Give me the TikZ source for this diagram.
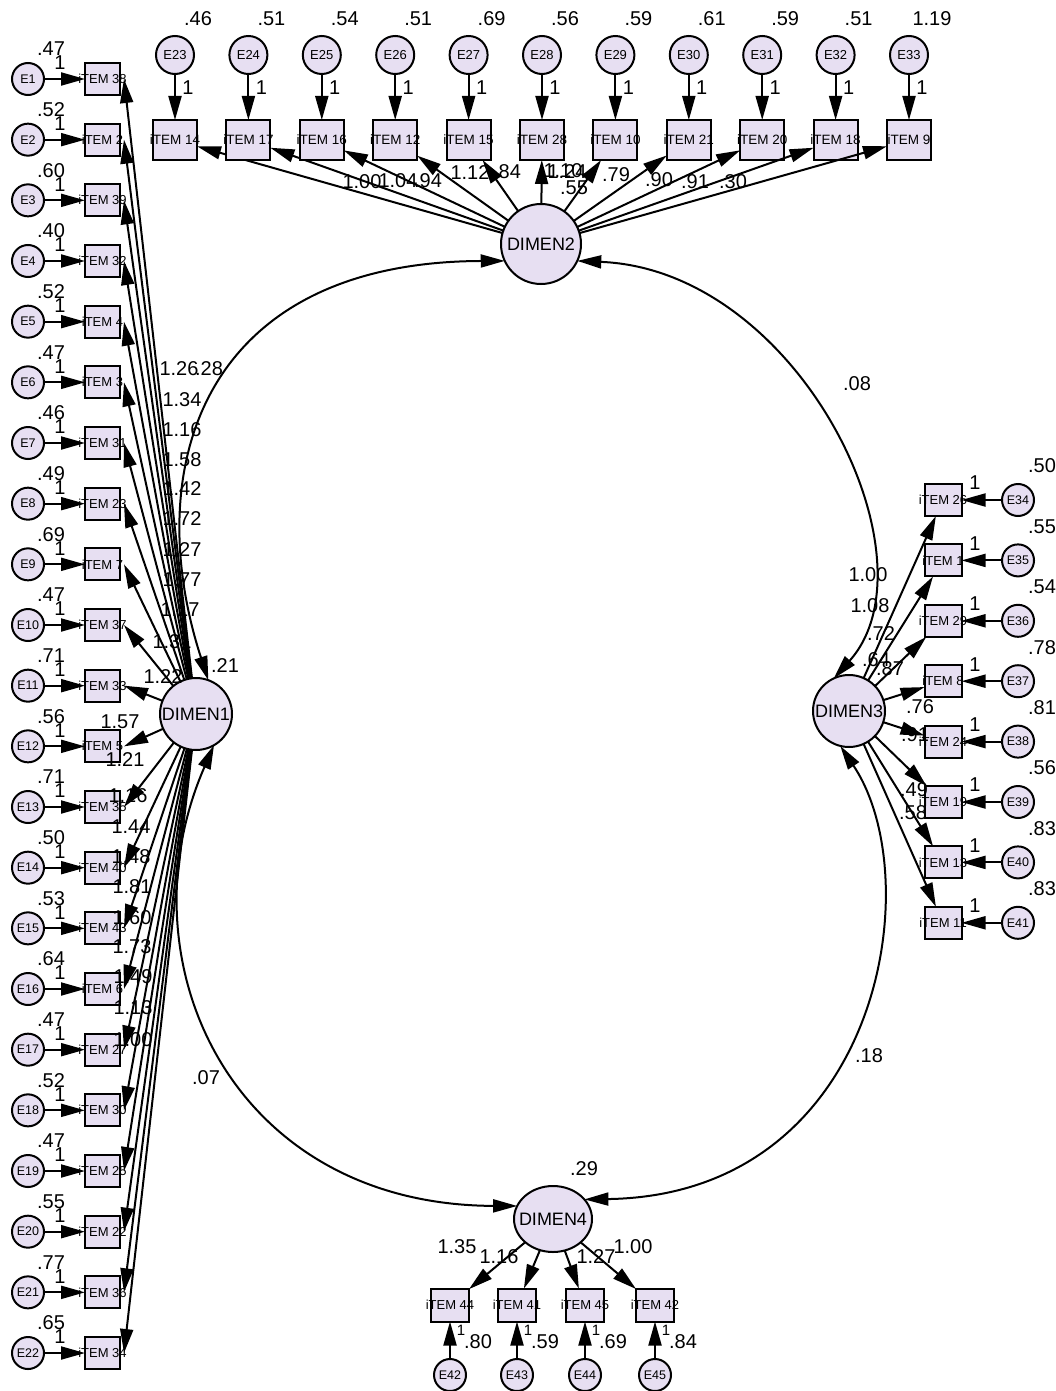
\documentclass[tikz,border=0pt]{standalone}
\usepackage{fontspec}
\setmainfont{Liberation Sans}
\usetikzlibrary{arrows.meta,calc,shapes.geometric}
\definecolor{nodefill}{RGB}{231,223,242}
\begin{document}
\begin{tikzpicture}[x=1pt,y=-1pt,
  every node/.style={inner sep=0pt, outer sep=0pt},
  lat/.style={circle, draw, line width=2pt, fill=nodefill, minimum size=72pt},
  latell/.style={ellipse, draw, line width=2pt, fill=nodefill, minimum width=78pt, minimum height=66pt},
  lattxt/.style={font=\fontsize{18}{18}\selectfont},
  err/.style={circle, draw, line width=2pt, fill=nodefill, minimum size=32pt, font=\fontsize{12.5}{12.5}\selectfont},
  errtop/.style={err, minimum size=38pt, font=\fontsize{13}{13}\selectfont},
  obs/.style={rectangle, draw, line width=2pt, fill=nodefill, minimum width=35pt, minimum height=32pt},
  obstop/.style={obs, minimum width=44pt, minimum height=40pt},
  obsright/.style={obs, minimum width=37pt},
  obsbot/.style={obs, minimum width=38pt, minimum height=33pt},
  itemtxt/.style={font=\fontsize{13}{13}\selectfont},
  itemtxttop/.style={font=\fontsize{13.5}{13.5}\selectfont},
  num/.style={font=\fontsize{20}{20}\selectfont},
  numsm/.style={font=\fontsize{15}{15}\selectfont},
  ld/.style={line width=2pt, -{Triangle[length=24pt,width=13pt]}},
  cov/.style={line width=2pt, {Triangle[length=24pt,width=13pt]}-{Triangle[length=24pt,width=13pt]}},
]
\useasboundingbox (0,0) rectangle (1056,1391);
\fill[white] (0,0) rectangle (1056,1391);

% ---------- latent variables ----------
\node[lat] (D1) at (196,714) {};
\node[lattxt] at (D1) {DIMEN1};
\node[lat, minimum size=80pt] (D2) at (541,244) {};
\node[lattxt] at (D2) {DIMEN2};
\node[lat] (D3) at (849,711) {};
\node[lattxt] at (D3) {DIMEN3};
\node[latell] (D4) at (553,1219) {};
\node[lattxt] at (D4) {DIMEN4};

% ---------- left column (DIMEN1) ----------
\foreach \i/\nm/\vr in {1/38/.47, 2/2/.52, 3/39/.60, 4/32/.40, 5/4/.52, 6/3/.47,
  7/31/.46, 8/23/.49, 9/7/.69, 10/37/.47, 11/33/.71, 12/5/.56, 13/35/.71,
  14/40/.50, 15/43/.53, 16/6/.64, 17/27/.47, 18/30/.52, 19/25/.47, 20/22/.55,
  21/36/.77, 22/34/.65}{
  \pgfmathsetmacro\yy{79+(\i-1)*60.667}
  \node[err] (E\i) at (28,\yy) {E\i};
  \node[obs] (L\i) at (102.5,\yy) {};
  \node[itemtxt] at (L\i) {iTEM \nm};
  \draw[ld] (E\i) -- (L\i);
  \draw[ld] (D1) -- ($(L\i.east)+(4,0)$);
  \node[num] at (51,\yy-30) {\vr};
  \node[num] at (60,\yy-16) {1};
}

% ---------- top row (DIMEN2) ----------
\foreach \j/\nm/\vr in {0/14/.46, 1/17/.51, 2/16/.54, 3/12/.51, 4/15/.69,
  5/28/.56, 6/10/.59, 7/21/.61, 8/20/.59, 9/18/.51, 10/9/1.19}{
  \pgfmathsetmacro\xx{175+\j*73.4}
  \pgfmathtruncatemacro\en{23+\j}
  \node[errtop] (E\en) at (\xx,55) {E\en};
  \node[obstop] (T\j) at (\xx,140) {};
  \node[itemtxttop] at (T\j) {iTEM \nm};
  \draw[ld] (E\en) -- (T\j);
  \draw[ld] (D2) -- (T\j);
  \node[num] at (\xx+23,19) {\vr};
  \node[num] at (\xx+13,88) {1};
}

% ---------- right column (DIMEN3) ----------
\foreach \k/\nm/\vr in {0/26/.50, 1/1/.55, 2/29/.54, 3/8/.78, 4/24/.81,
  5/19/.56, 6/13/.83, 7/11/.83}{
  \pgfmathsetmacro\yy{500+\k*60.4}
  \pgfmathtruncatemacro\en{34+\k}
  \node[obsright] (R\k) at (943,\yy) {};
  \node[itemtxt] at (R\k) {iTEM \nm};
  \node[err] (E\en) at (1018,\yy) {E\en};
  \draw[ld] (E\en) -- (R\k);
  \draw[ld] (D3) -- (R\k);
  \node[num] at (1042,\yy-34) {\vr};
  \node[num] at (975,\yy-17) {1};
}

% ---------- bottom row (DIMEN4) ----------
\foreach \k/\nm/\vr/\xx in {0/44/.80/450, 1/41/.59/517, 2/45/.69/585, 3/42/.84/655}{
  \pgfmathtruncatemacro\en{42+\k}
  \node[obsbot] (B\k) at (\xx,1305) {};
  \node[itemtxt] at (B\k) {iTEM \nm};
  \node[err] (E\en) at (\xx,1375) {E\en};
  \draw[ld] (E\en) -- (B\k);
  \draw[ld] (D4) -- (B\k);
  \node[numsm] at (\xx+11,1330) {1};
  \node[num] at (\xx+28,1342) {\vr};
}

% ---------- covariances ----------
\draw[cov] (D1.70) .. controls (140,470) and (200,262) .. (D2.205);
\draw[cov] (D2.335) .. controls (800,270) and (940,560) .. (D3.115);
\draw[cov] (D1.300) .. controls (120,960) and (230,1205) .. (D4.160);
\draw[cov] (D3.256) .. controls (930,880) and (880,1195) .. (D4.32);

% ---------- labels DIMEN1 ----------
\foreach \lx/\ly/\t in {179/369/1.26, 209/369/.28, 182/400/1.34, 182/430/1.16,
  182/460/1.58, 182/489/1.42, 182/519/1.72, 182/550/1.27, 182/580/1.77,
  180/610/1.17, 172/642/1.31, 163/677/1.22, 225/666/.21,
  120/722/1.57, 125/760/1.21, 128/796/1.16, 131/827/1.44, 131/857/1.48,
  132/887/1.81, 132/918/1.60, 132/947/1.73, 133/977/1.49, 133/1008/1.13,
  133/1040/1.00}{
  \node[num] at (\lx,\ly) {\t};
}
% ---------- labels DIMEN2 ----------
\foreach \lx/\ly/\t in {362/182/1.00, 398/181/1.04, 428/181/.94, 470/173/1.12,
  507/172/.84, 563/171/1.10, 567/172/1.24, 574/188/.55, 616/175/.79,
  659/180/.90, 695/182/.91, 733/182/.30}{
  \node[num] at (\lx,\ly) {\t};
}
% ---------- labels DIMEN3 ----------
\foreach \lx/\ly/\t in {868/575/1.00, 870/606/1.08, 881/634/.72, 876/660/.64,
  890/669/.87, 920/707/.76, 915/735/.91, 914/790/.49, 913/813/.58}{
  \node[num] at (\lx,\ly) {\t};
}
% ---------- labels DIMEN4 ----------
\foreach \lx/\ly/\t in {457/1247/1.35, 499/1257/1.16, 596/1257/1.27,
  633/1247/1.00, 584/1169/.29}{
  \node[num] at (\lx,\ly) {\t};
}
% ---------- covariance labels ----------
\node[num] at (857,384) {.08};
\node[num] at (206,1078) {.07};
\node[num] at (869,1056) {.18};
\end{tikzpicture}
\end{document}
